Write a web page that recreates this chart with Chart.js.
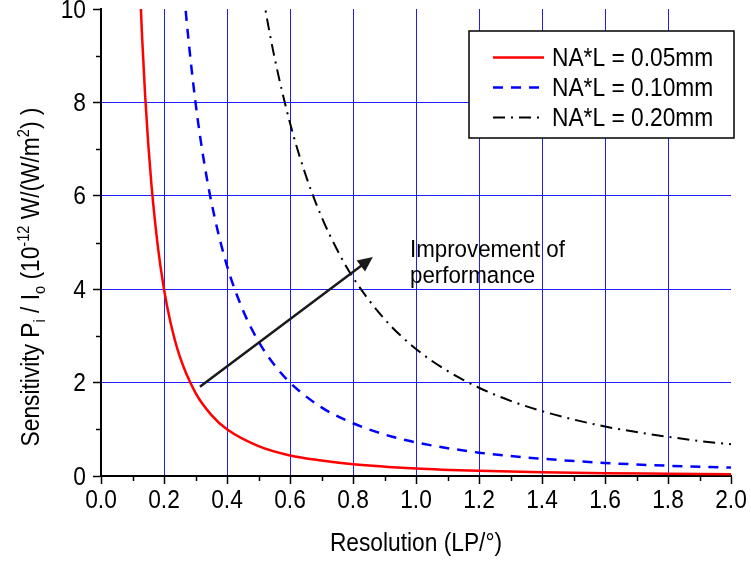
<!DOCTYPE html>
<html>
<head>
<meta charset="utf-8">
<script src="https://cdn.jsdelivr.net/npm/chart.js@4/dist/chart.umd.min.js"></script>
<style>
  html, body { margin: 0; padding: 0; background: #fff; }
  #wrap { width: 751px; height: 562px; position: relative; }
</style>
</head>
<body>
<div id="wrap"><canvas id="c" width="751" height="562"></canvas></div>
<script>
// ---- data ----
const seriesLabels = ['NA*L = 0.05mm', 'NA*L = 0.10mm', 'NA*L = 0.20mm'];

const xRed = [0.12, 0.13, 0.14, 0.15, 0.16, 0.18, 0.20, 0.22, 0.25, 0.30, 0.35, 0.40, 0.50, 0.60, 0.70, 0.80, 1.0, 1.2, 1.4, 1.6, 1.8, 2.0];
const yRed = [11.1, 9.47, 8.16, 7.11, 6.25, 4.94, 4.00, 3.31, 2.56, 1.78, 1.31, 1.00, 0.64, 0.44, 0.33, 0.25, 0.16, 0.11, 0.08, 0.06, 0.05, 0.04];

const xBlue = [0.25, 0.27, 0.30, 0.33, 0.36, 0.40, 0.45, 0.50, 0.55, 0.60, 0.70, 0.80, 0.90, 1.0, 1.2, 1.4, 1.6, 1.8, 2.0];
const yBlue = [11.5, 9.88, 8.00, 6.61, 5.56, 4.50, 3.56, 2.88, 2.38, 2.00, 1.47, 1.13, 0.89, 0.72, 0.50, 0.37, 0.28, 0.22, 0.18];

const xBlack = [0.50, 0.52, 0.55, 0.60, 0.65, 0.70, 0.75, 0.80, 0.90, 1.0, 1.1, 1.2, 1.3, 1.4, 1.5, 1.6, 1.7, 1.8, 1.9, 2.0];
const yBlack = [10.9, 10.06, 8.99, 7.56, 6.44, 5.55, 4.84, 4.25, 3.36, 2.72, 2.25, 1.89, 1.61, 1.39, 1.21, 1.06, 0.94, 0.84, 0.75, 0.68];

const xTicks = [0.0, 0.2, 0.4, 0.6, 0.8, 1.0, 1.2, 1.4, 1.6, 1.8, 2.0];
const xTickLabels = ['0.0', '0.2', '0.4', '0.6', '0.8', '1.0', '1.2', '1.4', '1.6', '1.8', '2.0'];
const xMinorTicks = [0.1, 0.3, 0.5, 0.7, 0.9, 1.1, 1.3, 1.5, 1.7, 1.9];
const yTicks = [0, 2, 4, 6, 8, 10];
const yTickLabels = ['0', '2', '4', '6', '8', '10'];
const yMinorTicks = [1, 3, 5, 7, 9];

const xTitle = 'Resolution (LP/°)';
const arrowFrom = [0.314, 1.91];
const arrowTo = [0.863, 4.69];
const noteLines = ['Improvement of', 'performance'];
const noteAt = [0.981, 4.68];

// ---- chart ----
const FONT = '"Liberation Sans", Arial, Helvetica, sans-serif';
const FS = 25;        // font size
const SQ = 0.91;      // horizontal squeeze (reference glyphs are narrow)
const toPts = (xs, ys) => xs.map((v, i) => ({ x: v, y: ys[i] }));

const lineStyles = [
  { color: '#ff0000', width: 2.5, dash: [] },
  { color: '#0000ff', width: 2.5, dash: [10, 8] },
  { color: '#000000', width: 2, dash: [12, 6, 2, 6] }
];

function drawText(ctx, text, x, y, size, align) {
  ctx.save();
  ctx.font = size + 'px ' + FONT;
  ctx.textBaseline = 'alphabetic';
  ctx.textAlign = 'left';
  const w = ctx.measureText(text).width * SQ;
  let sx = x;
  if (align === 'center') sx = x - w / 2;
  else if (align === 'right') sx = x - w;
  ctx.translate(sx, y);
  ctx.scale(SQ, 1);
  ctx.fillText(text, 0, 0);
  ctx.restore();
}

const overlay = {
  id: 'overlay',
  afterDraw(chart) {
    const { ctx, chartArea: ca, scales: { x, y } } = chart;
    ctx.save();
    // minor ticks
    ctx.strokeStyle = '#000';
    ctx.lineWidth = 1.5;
    ctx.setLineDash([]);
    xMinorTicks.forEach(v => {
      const px = Math.round(x.getPixelForValue(v)) + 0.5;
      ctx.beginPath(); ctx.moveTo(px, ca.bottom); ctx.lineTo(px, ca.bottom + 5); ctx.stroke();
    });
    yMinorTicks.forEach(v => {
      const py = Math.round(y.getPixelForValue(v)) + 0.5;
      ctx.beginPath(); ctx.moveTo(ca.left - 5, py); ctx.lineTo(ca.left, py); ctx.stroke();
    });

    // tick labels
    ctx.fillStyle = '#000';
    xTicks.forEach((v, i) => drawText(ctx, xTickLabels[i], x.getPixelForValue(v), 508, FS, 'center'));
    yTicks.forEach((v, i) => drawText(ctx, yTickLabels[i], 86, y.getPixelForValue(v) + 8.5, FS, 'right'));

    // arrow
    const x0 = x.getPixelForValue(arrowFrom[0]), y0 = y.getPixelForValue(arrowFrom[1]);
    const x1 = x.getPixelForValue(arrowTo[0]), y1 = y.getPixelForValue(arrowTo[1]);
    const ang = Math.atan2(y1 - y0, x1 - x0);
    const headL = 15, headW = 7;
    ctx.strokeStyle = '#1a1a1a';
    ctx.fillStyle = '#1a1a1a';
    ctx.lineWidth = 2.5;
    ctx.beginPath();
    ctx.moveTo(x0, y0);
    ctx.lineTo(x1 - Math.cos(ang) * headL * 0.8, y1 - Math.sin(ang) * headL * 0.8);
    ctx.stroke();
    ctx.beginPath();
    ctx.moveTo(x1, y1);
    ctx.lineTo(x1 - Math.cos(ang) * headL + Math.sin(ang) * headW, y1 - Math.sin(ang) * headL - Math.cos(ang) * headW);
    ctx.lineTo(x1 - Math.cos(ang) * headL - Math.sin(ang) * headW, y1 - Math.sin(ang) * headL + Math.cos(ang) * headW);
    ctx.closePath();
    ctx.fill();

    // annotation text
    ctx.fillStyle = '#000';
    const nx = x.getPixelForValue(noteAt[0]), ny = y.getPixelForValue(noteAt[1]);
    noteLines.forEach((t, i) => drawText(ctx, t, nx, ny + i * 25.5, 24.5, 'left'));

    // legend box
    const bx = ca.right - 262, by = ca.top + 22, bw = 265, bh = 107;
    ctx.fillStyle = '#fff';
    ctx.fillRect(bx, by, bw, bh);
    ctx.strokeStyle = '#000';
    ctx.lineWidth = 1.5;
    ctx.strokeRect(bx, by, bw, bh);
    seriesLabels.forEach((lab, i) => {
      const st = lineStyles[i];
      const cy = by + 26.5 + i * 30;
      ctx.strokeStyle = st.color;
      ctx.lineWidth = st.width;
      ctx.setLineDash(st.dash);
      ctx.beginPath(); ctx.moveTo(bx + 24, cy); ctx.lineTo(bx + 75, cy); ctx.stroke();
      ctx.setLineDash([]);
      ctx.fillStyle = '#000';
      drawText(ctx, lab, bx + 83, cy + 8.5, FS, 'left');
    });

    // x title
    ctx.fillStyle = '#000';
    drawText(ctx, xTitle, (ca.left + ca.right) / 2, 551, FS, 'center');

    // y title (rich text)
    const segs = [
      { t: 'Sensitivity P', s: FS, dy: 0 },
      { t: 'i', s: 16, dy: 6 },
      { t: ' / I', s: FS, dy: 0 },
      { t: 'o', s: 16, dy: 6 },
      { t: ' (10', s: FS, dy: 0 },
      { t: '-12', s: 16, dy: -10 },
      { t: ' W/(W/m', s: FS, dy: 0 },
      { t: '2', s: 16, dy: -10 },
      { t: ') )', s: FS, dy: 0 }
    ];
    ctx.textAlign = 'left';
    ctx.textBaseline = 'alphabetic';
    let total = 0;
    segs.forEach(sg => { ctx.font = sg.s + 'px ' + FONT; sg.w = ctx.measureText(sg.t).width; total += sg.w; });
    ctx.translate(39, 277);
    ctx.rotate(-Math.PI / 2);
    ctx.scale(SQ, 1);
    let cx = -total / 2;
    segs.forEach(sg => {
      ctx.font = sg.s + 'px ' + FONT;
      ctx.fillText(sg.t, cx, sg.dy);
      cx += sg.w;
    });
    ctx.restore();
  }
};

const gridColor = (ends) => (c) => {
  const v = c.tick ? c.tick.value : null;
  if (v === null) return 'transparent';
  return ends.some(e => Math.abs(e - v) < 1e-9) ? 'transparent' : 'rgb(30,30,255)';
};

new Chart(document.getElementById('c'), {
  type: 'line',
  data: {
    datasets: [
      { label: seriesLabels[0], data: toPts(xRed, yRed) },
      { label: seriesLabels[1], data: toPts(xBlue, yBlue) },
      { label: seriesLabels[2], data: toPts(xBlack, yBlack) }
    ].map((d, i) => Object.assign(d, {
      borderColor: lineStyles[i].color,
      borderWidth: lineStyles[i].width,
      borderDash: lineStyles[i].dash,
      pointRadius: 0,
      fill: false,
      cubicInterpolationMode: 'monotone'
    }))
  },
  options: {
    responsive: false,
    animation: false,
    layout: { padding: { top: 9, right: 20, left: 0, bottom: 0 } },
    plugins: { legend: { display: false }, tooltip: { enabled: false } },
    scales: {
      x: {
        type: 'linear', min: 0, max: 2,
        afterBuildTicks: s => { s.ticks = xTicks.map(v => ({ value: v })); },
        afterFit: s => { s.height = 86; s.paddingLeft = 0; s.paddingRight = 0; },
        ticks: { display: false },
        grid: { color: gridColor([0, 2]), lineWidth: 1, tickColor: '#000', tickLength: 8, tickWidth: 1.5, drawTicks: true },
        border: { display: true, color: '#000', width: 2 }
      },
      y: {
        type: 'linear', min: 0, max: 10,
        afterBuildTicks: s => { s.ticks = yTicks.map(v => ({ value: v })); },
        afterFit: s => { s.width = 101; s.paddingTop = 0; s.paddingBottom = 0; },
        ticks: { display: false },
        grid: { color: gridColor([0, 10]), lineWidth: 1, tickColor: '#000', tickLength: 8, tickWidth: 1.5, drawTicks: true },
        border: { display: true, color: '#000', width: 2 }
      }
    }
  },
  plugins: [overlay]
});
</script>
</body>
</html>
